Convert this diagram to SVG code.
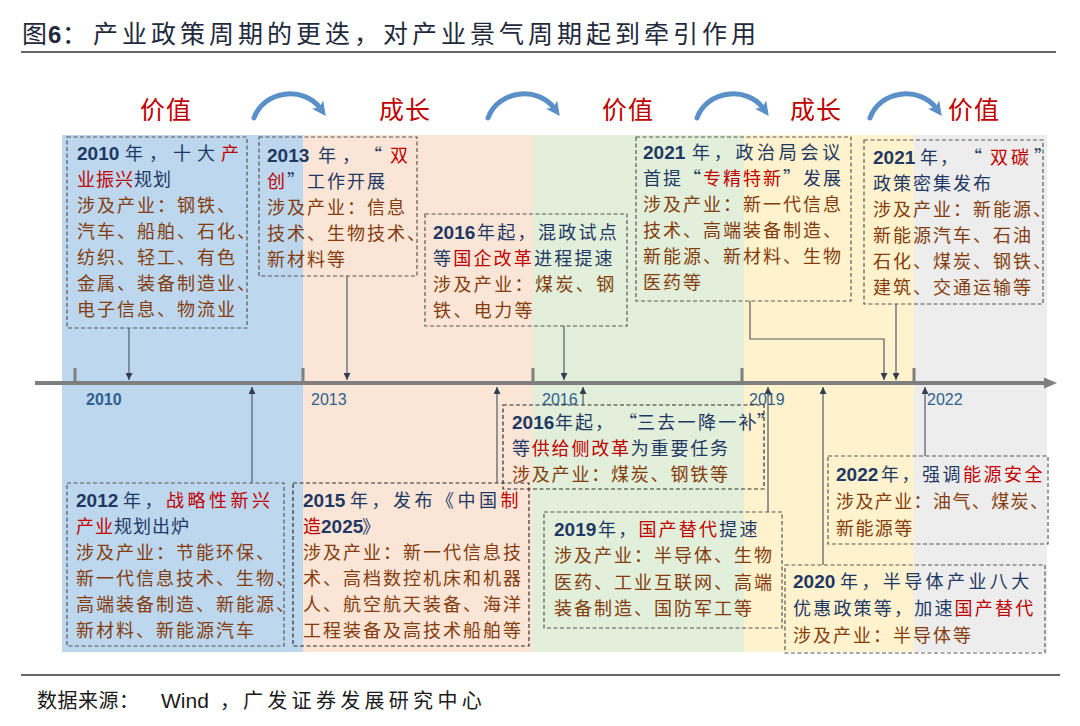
<svg xmlns="http://www.w3.org/2000/svg" width="1080" height="726" viewBox="0 0 1080 726">
<style>
.cn{font-family:"Noto Sans CJK SC","Noto Sans CJK JP",sans-serif;font-size:18px;letter-spacing:2px}
.yr{font-family:"Liberation Sans",Arial,sans-serif;font-weight:bold;font-size:19px;letter-spacing:0px}
.nv{fill:#1f3864}.rd{fill:#c00000}.br{fill:#843c0c}
.box{fill:none;stroke:#595959;stroke-width:1.2;stroke-dasharray:4 2.5}
.dk{stroke:#303030}
.con{fill:none;stroke:#505a66;stroke-width:1.2;marker-end:url(#ah)}
.cyc{fill:none;stroke:#5b8fc7;stroke-width:5;stroke-linecap:round;marker-end:url(#ca)}
.phase{font-family:"Noto Sans CJK SC",sans-serif;font-size:25px;fill:#c00000;letter-spacing:1px}
.tick{stroke:#7f7f7f;stroke-width:3}
.yl{font-family:"Liberation Sans",Arial,sans-serif;font-size:16px;fill:#2f5f8f}
</style>
<defs>
<marker id="ah" viewBox="0 0 8 8" refX="8" refY="4" markerWidth="7" markerHeight="7" markerUnits="userSpaceOnUse" orient="auto"><path d="M0,0 L8,4 L0,8 z" fill="#333f50"/></marker>
<marker id="ca" viewBox="0 0 10 10" refX="3" refY="5" markerWidth="14" markerHeight="14" markerUnits="userSpaceOnUse" orient="auto"><path d="M0,0 L10,5 L0,10 L2.5,5 z" fill="#5b8fc7"/></marker>
</defs>
<rect width="1080" height="726" fill="#ffffff"/>
<!-- title -->
<g id="title">
<text x="22" y="43" font-family="Noto Sans CJK SC,sans-serif" font-size="25" fill="#1f2a3c">图</text>
<text x="48" y="43" font-family="Liberation Sans,Arial,sans-serif" font-weight="bold" font-size="24" fill="#1f2a3c">6</text>
<text x="62" y="43" font-family="Noto Sans CJK SC,sans-serif" font-size="25" fill="#1f2a3c">：</text>
<text x="93" y="43" font-family="Noto Sans CJK SC,sans-serif" font-size="25" letter-spacing="4" fill="#1f2a3c">产业政策周期的更迭，对产业景气周期起到牵引作用</text>
<line x1="21" y1="52" x2="1056" y2="52" stroke="#333333" stroke-width="1.3"/>
</g>
<!-- bands -->
<g id="bands">
<rect x="62" y="135" width="241" height="517" fill="#bdd7ee"/>
<rect x="303" y="135" width="230" height="517" fill="#fbe5d6"/>
<rect x="533" y="135" width="211" height="517" fill="#e2efda"/>
<rect x="744" y="135" width="170" height="517" fill="#fff2cc"/>
<rect x="914" y="135" width="133" height="517" fill="#ededed"/>
</g>
<!-- phases -->
<g id="phases">
<text class="phase" x="140" y="119">价值</text>
<text class="phase" x="379" y="119">成长</text>
<text class="phase" x="602" y="119">价值</text>
<text class="phase" x="790" y="119">成长</text>
<text class="phase" x="948" y="119">价值</text>
</g>
<g id="cycle-arrows">
<path class="cyc" d="M254,118 C264,90 304,86 320,108"/>
<path class="cyc" d="M488,118 C498,90 538,86 554,108"/>
<path class="cyc" d="M697,118 C707,90 747,86 763,108"/>
<path class="cyc" d="M870,118 C880,90 920,86 936,108"/>
</g>
<!-- axis -->
<g id="axis">
<line x1="35" y1="383" x2="1046" y2="383" stroke="#7f7f7f" stroke-width="4"/>
<polygon points="1044,377.5 1057,383 1044,388.5" fill="#7f7f7f"/>
<line class="tick" x1="75" y1="368" x2="75" y2="383"/>
<line class="tick" x1="303" y1="368" x2="303" y2="383"/>
<line class="tick" x1="533" y1="368" x2="533" y2="383"/>
<line class="tick" x1="742" y1="368" x2="742" y2="383"/>
<line class="tick" x1="914" y1="368" x2="914" y2="383"/>
<text class="yl" x="86" y="405" font-weight="bold" fill="#1f4e79">2010</text>
<text class="yl" x="311" y="405">2013</text>
<text class="yl" x="542" y="405">2016</text>
<text class="yl" x="749" y="405">2019</text>
<text class="yl" x="927" y="405">2022</text>
</g>
<!-- connectors -->
<g id="connectors">
<path class="con" d="M129,328 V380"/>
<path class="con" d="M347,276 V380"/>
<path class="con" d="M564,326 V380"/>
<path class="con" d="M750,301 V339 H884 V380"/>
<path class="con" d="M896,304 V380"/>
<path class="con" d="M252,483 V387"/>
<path class="con" d="M497,483 V387"/>
<path class="con" d="M583,405 V387"/>
<path class="con" d="M768,512 V387"/>
<path class="con" d="M823,565 V387"/>
<path class="con" d="M925,456 V387"/>
</g>
<!-- nodes -->
<g id="n2010">
<rect class="box" x="67" y="137" width="180" height="191"/>
<text class="cn nv" x="77" y="160"><tspan class="yr">2010</tspan><tspan x="125" style="letter-spacing:6px">年，十大</tspan><tspan class="rd">产</tspan></text>
<text class="cn" x="77" y="186" style="letter-spacing:1px"><tspan class="rd">业振兴</tspan><tspan class="nv">规划</tspan></text>
<text class="cn br" x="77" y="212">涉及产业：钢铁、</text>
<text class="cn br" x="77" y="238">汽车、船舶、石化、</text>
<text class="cn br" x="77" y="264">纺织、轻工、有色</text>
<text class="cn br" x="77" y="290">金属、装备制造业、</text>
<text class="cn br" x="77" y="316">电子信息、物流业</text>
</g>
<g id="n2013">
<rect class="box" x="259" y="137" width="158" height="139"/>
<text class="cn nv" x="267" y="162"><tspan class="yr">2013</tspan><tspan x="318">年</tspan><tspan x="342">，</tspan><tspan x="364">“</tspan><tspan x="390" class="rd">双</tspan></text>
<text class="cn" x="267" y="188"><tspan class="rd">创</tspan><tspan class="nv">”工作开展</tspan></text>
<text class="cn br" x="267" y="214">涉及产业：信息</text>
<text class="cn br" x="267" y="240">技术、生物技术、</text>
<text class="cn br" x="267" y="266">新材料等</text>
</g>
<g id="n2016a">
<rect class="box" x="425" y="214" width="202" height="112"/>
<text class="cn nv" x="433" y="239"><tspan class="yr">2016</tspan><tspan x="477" style="letter-spacing:2.3px">年起，混政试点</tspan></text>
<text class="cn" x="433" y="265" style="letter-spacing:2.2px"><tspan class="nv">等</tspan><tspan class="rd">国企改革</tspan><tspan class="nv">进程提速</tspan></text>
<text class="cn br" x="433" y="291" style="letter-spacing:2.4px">涉及产业：煤炭、钢</text>
<text class="cn br" x="433" y="317" style="letter-spacing:2.4px">铁、电力等</text>
</g>
<g id="n2021a">
<rect class="box" x="636" y="137" width="215" height="164"/>
<text class="cn nv" x="643" y="159"><tspan class="yr">2021</tspan><tspan x="692" style="letter-spacing:3.7px">年，政治局会议</tspan></text>
<text class="cn" x="643" y="185"><tspan class="nv">首提“</tspan><tspan class="rd">专精特新</tspan><tspan class="nv">”发展</tspan></text>
<text class="cn br" x="643" y="211">涉及产业：新一代信息</text>
<text class="cn br" x="643" y="237">技术、高端装备制造、</text>
<text class="cn br" x="643" y="263">新能源、新材料、生物</text>
<text class="cn br" x="643" y="289">医药等</text>
</g>
<g id="n2021b">
<rect class="box" x="864" y="140" width="179" height="164"/>
<text class="cn nv" x="873" y="164"><tspan class="yr">2021</tspan><tspan x="920">年</tspan><tspan x="940">，</tspan><tspan x="964">“</tspan><tspan x="990" class="rd" style="letter-spacing:3px">双碳</tspan><tspan x="1034">”</tspan></text>
<text class="cn nv" x="873" y="190">政策密集发布</text>
<text class="cn br" x="873" y="216">涉及产业：新能源、</text>
<text class="cn br" x="873" y="242">新能源汽车、石油</text>
<text class="cn br" x="873" y="268">石化、煤炭、钢铁、</text>
<text class="cn br" x="873" y="294">建筑、交通运输等</text>
</g>
<g id="n2012">
<rect class="box" x="67" y="483" width="217" height="163"/>
<text class="cn nv" x="76" y="507"><tspan class="yr">2012</tspan><tspan x="123" style="letter-spacing:3.5px">年，</tspan><tspan class="rd" style="letter-spacing:3.5px">战略性新兴</tspan></text>
<text class="cn" x="76" y="533" style="letter-spacing:1px"><tspan class="rd">产业</tspan><tspan class="nv">规划出炉</tspan></text>
<text class="cn br" x="76" y="559">涉及产业：节能环保、</text>
<text class="cn br" x="76" y="585">新一代信息技术、生物、</text>
<text class="cn br" x="76" y="611">高端装备制造、新能源、</text>
<text class="cn br" x="76" y="637">新材料、新能源汽车</text>
</g>
<g id="n2015">
<rect class="box dk" x="293" y="483" width="236" height="163"/>
<text class="cn nv" x="303" y="507"><tspan class="yr">2015</tspan><tspan x="350" style="letter-spacing:3.5px">年，发布《中国</tspan><tspan class="rd">制</tspan></text>
<text class="cn" x="303" y="533"><tspan class="rd">造</tspan><tspan class="yr nv" x="321">2025</tspan><tspan class="nv" x="362">》</tspan></text>
<text class="cn br" x="303" y="559">涉及产业：新一代信息技</text>
<text class="cn br" x="303" y="585">术、高档数控机床和机器</text>
<text class="cn br" x="303" y="611">人、航空航天装备、海洋</text>
<text class="cn br" x="303" y="637">工程装备及高技术船舶等</text>
</g>
<g id="n2016b">
<rect class="box dk" x="503" y="405" width="261" height="84"/>
<text class="cn nv" x="512" y="429"><tspan class="yr">2016</tspan><tspan x="555">年起，</tspan><tspan x="619">“</tspan><tspan x="637" style="letter-spacing:2.3px">三去一降一补</tspan><tspan x="757">”</tspan></text>
<text class="cn" x="512" y="455" style="letter-spacing:1.8px"><tspan class="nv">等</tspan><tspan class="rd">供给侧改革</tspan><tspan class="nv">为重要任务</tspan></text>
<text class="cn br" x="512" y="481" style="letter-spacing:1.8px">涉及产业：煤炭、钢铁等</text>
</g>
<g id="n2019">
<rect class="box" x="544" y="512" width="238" height="116"/>
<text class="cn nv" x="554" y="536"><tspan class="yr">2019</tspan><tspan x="598" style="letter-spacing:2.2px">年，</tspan><tspan class="rd" style="letter-spacing:2.2px">国产替代</tspan><tspan style="letter-spacing:2.2px">提速</tspan></text>
<text class="cn br" x="554" y="562">涉及产业：半导体、生物</text>
<text class="cn br" x="554" y="589">医药、工业互联网、高端</text>
<text class="cn br" x="554" y="615">装备制造、国防军工等</text>
</g>
<g id="n2022">
<rect class="box" x="828" y="456" width="220" height="88"/>
<text class="cn nv" x="836" y="481"><tspan class="yr">2022</tspan><tspan x="881" style="letter-spacing:2.5px">年，强调</tspan><tspan class="rd" style="letter-spacing:2.5px">能源安全</tspan></text>
<text class="cn br" x="836" y="508" style="letter-spacing:1.4px">涉及产业：油气、煤炭、</text>
<text class="cn br" x="836" y="535" style="letter-spacing:1.4px">新能源等</text>
</g>
<g id="n2020">
<rect class="box" x="785" y="565" width="260" height="88"/>
<text class="cn nv" x="793" y="588"><tspan class="yr">2020</tspan><tspan x="840" style="letter-spacing:3.4px">年，半导体产业八大</tspan></text>
<text class="cn" x="793" y="615" style="letter-spacing:2.2px"><tspan class="nv">优惠政策等，加速</tspan><tspan class="rd">国产替代</tspan></text>
<text class="cn br" x="793" y="642">涉及产业：半导体等</text>
</g>
<!-- footer -->
<g id="footer">
<line x1="21" y1="675" x2="1060" y2="675" stroke="#333333" stroke-width="1.3"/>
<text x="37" y="708" font-family="Noto Sans CJK SC,sans-serif" font-size="20" letter-spacing="0.5" fill="#1a1a1a">数据来源：</text>
<text x="161" y="708" font-family="Liberation Sans,Arial,sans-serif" font-size="21" fill="#1a1a1a">Wind</text>
<text x="220" y="708" font-family="Noto Sans CJK SC,sans-serif" font-size="20" fill="#1a1a1a">，</text>
<text x="243" y="708" font-family="Noto Sans CJK SC,sans-serif" font-size="20" letter-spacing="4.3" fill="#1a1a1a">广发证券发展研究中心</text>
</g>
</svg>
